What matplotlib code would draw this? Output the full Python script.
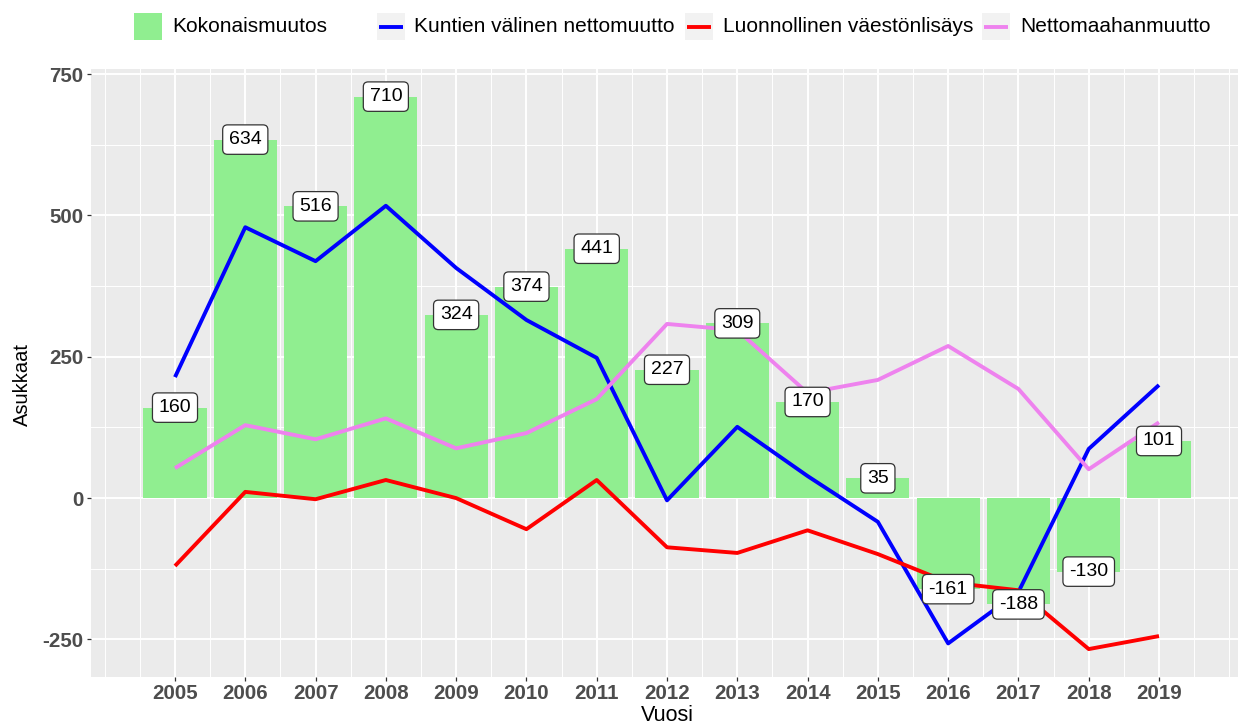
import numpy as np
import matplotlib
matplotlib.use("Agg")
import matplotlib.pyplot as plt
from matplotlib.patches import Rectangle
from matplotlib.lines import Line2D

plt.rcParams['font.family'] = ['Liberation Sans', 'DejaVu Sans']
plt.rcParams['axes.unicode_minus'] = False

# data
vuodet = [2005, 2006, 2007, 2008, 2009, 2010, 2011, 2012, 2013, 2014, 2015, 2016, 2017, 2018, 2019]
kokonaismuutos = [160, 634, 516, 710, 324, 374, 441, 227, 309, 170, 35, -161, -188, -130, 101]
kuntien_valinen = [214, 479, 419, 517, 407, 315, 248, -4, 126, 39, -42, -257, -166, 87, 200]
luonnollinen = [-120, 11, -2, 32, 0, -55, 32, -87, -97, -57, -99, -149, -163, -267, -244]
maahanmuutto = [53, 129, 104, 141, 88, 115, 175, 308, 297, 186, 209, 269, 193, 51, 134]

sarjat = ['Kokonaismuutos', 'Kuntien välinen nettomuutto',
          'Luonnollinen väestönlisäys', 'Nettomaahanmuutto']
varit = ['#90EE90', '#0000FF', '#FF0000', '#EE82EE']

W, H = 1238, 727
fig = plt.figure(figsize=(W / 100, H / 100), dpi=100)

# axes placed in pixel units (panel runs a little past the right edge)
ax = fig.add_axes([91 / W, 1 - 676.7 / H, (1243 - 91) / W, (676.7 - 69) / H])
ax.set_facecolor('#EBEBEB')
for s in ax.spines.values():
    s.set_visible(False)

x = np.array(vuodet)
ax.bar(x, kokonaismuutos, width=0.9, color=varit[0], zorder=2)
ax.plot(x, kuntien_valinen, color=varit[1], lw=2.8, zorder=3, solid_capstyle='butt')
ax.plot(x, luonnollinen, color=varit[2], lw=2.8, zorder=3, solid_capstyle='butt')
ax.plot(x, maahanmuutto, color=varit[3], lw=2.8, zorder=3, solid_capstyle='butt')

for xi, v in zip(x, kokonaismuutos):
    ax.text(xi, v, str(v), ha='center', va='center', fontsize=14, color='black', zorder=5,
            bbox=dict(boxstyle='round,pad=0.32,rounding_size=0.25', fc='white', ec='#333333', lw=0.9))

# limits like ggplot (5 % expansion)
xlo, xhi = x.min() - 0.45, x.max() + 0.45
xp = 0.05 * (xhi - xlo)
ax.set_xlim(xlo - xp, xhi + xp)
kaikki = np.concatenate([kokonaismuutos, kuntien_valinen, luonnollinen, maahanmuutto, [0]])
ylo, yhi = kaikki.min(), kaikki.max()
yp = 0.05 * (yhi - ylo)
ax.set_ylim(ylo - yp, yhi + yp)

ax.set_xticks(vuodet)
ax.set_xticklabels([str(v) for v in vuodet])
ax.set_xticks(np.arange(2004, 2020.5, 0.5), minor=True)
ax.set_yticks([-250, 0, 250, 500, 750])
ax.set_yticks([-125, 125, 375, 625], minor=True)

ax.grid(which='major', color='white', lw=1.4, zorder=0)
ax.grid(which='minor', color='white', lw=0.7, zorder=0)
ax.set_axisbelow(True)

ax.tick_params(which='major', length=3, width=0.9, color='#333333', pad=2.5,
               labelsize=14.8, labelcolor='#4D4D4D')
ax.tick_params(which='minor', length=0)
for lab in ax.get_xticklabels() + ax.get_yticklabels():
    lab.set_fontweight('bold')

ax.set_xlabel('Vuosi', fontsize=15.5, color='black')
ax.xaxis.set_label_coords(0.5, -(705 - 676.7) / (676.7 - 69))
fig.text(22 / W, 1 - 385 / H, 'Asukkaat', rotation=90, ha='center', va='center',
         fontsize=14.5, color='black')

# legend on top, drawn by hand
def px(xp_, yp_):
    return xp_ / W, 1 - yp_ / H

avaimet = [(134, 172), (377, 414), (685, 723), (982, 1020)]
for i, ((kx, tx), nimi) in enumerate(zip(avaimet, sarjat)):
    x0, y0 = px(kx, 40)
    if i == 0:
        fig.patches.append(Rectangle((x0, y0), 28 / W, 27 / H, transform=fig.transFigure,
                                     fc=varit[0], ec='none'))
    else:
        fig.patches.append(Rectangle((x0, y0), 28 / W, 27 / H, transform=fig.transFigure,
                                     fc='#F2F2F2', ec='none'))
        la, lb = px(kx + 2, 26.5)[0], px(kx + 26, 26.5)[0]
        fig.lines.append(Line2D([la, lb], [1 - 26.5 / H] * 2, transform=fig.transFigure,
                                color=varit[i], lw=2.8, solid_capstyle='butt'))
    tx0, ty0 = px(tx, 26.5)
    fig.text(tx0, ty0, nimi, ha='left', va='center', fontsize=15, color='black')

fig.savefig('out.png', dpi=100)
